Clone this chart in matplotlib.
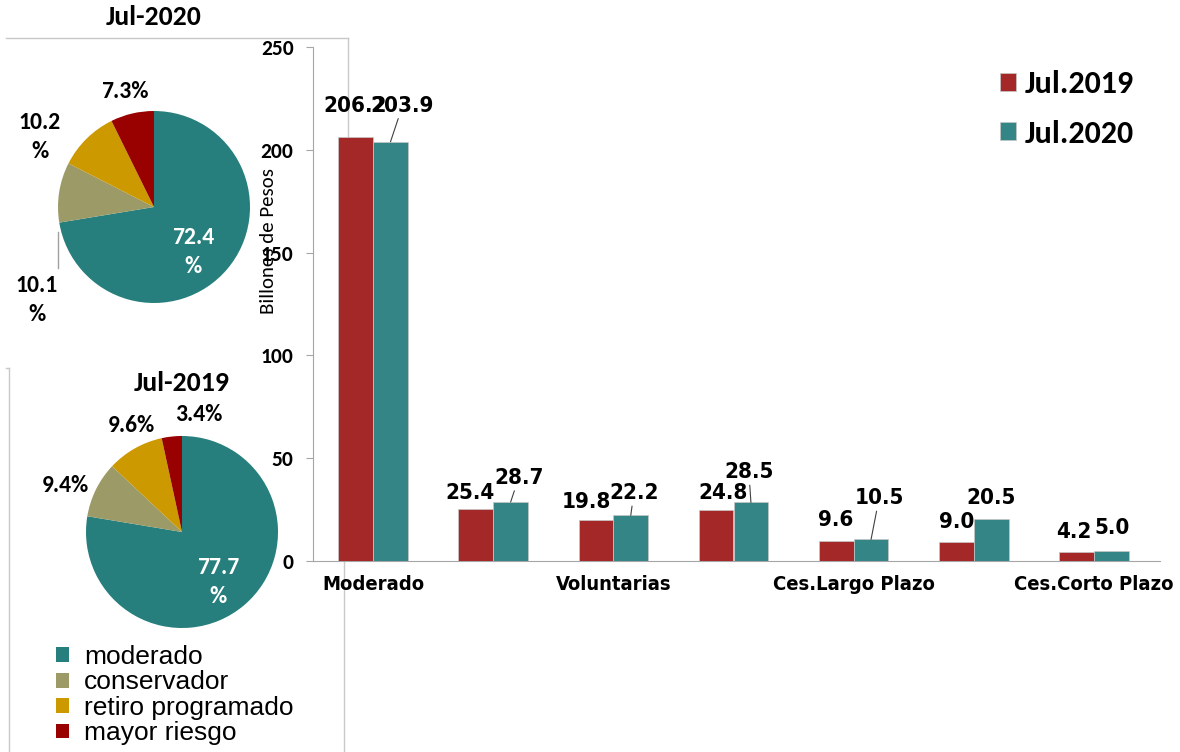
import numpy as np
import matplotlib
matplotlib.use("Agg")
import matplotlib.pyplot as plt
from matplotlib.lines import Line2D

# fondos por tipo, billones de pesos
categorias = ["Moderado", "Retiro Programado", "Voluntarias", "Conservador",
              "Ces.Largo Plazo", "Mayor Riesgo", "Ces.Corto Plazo"]
jul_2019 = [206.2, 25.4, 19.8, 24.8, 9.6, 9.0, 4.2]
jul_2020 = [203.9, 28.7, 22.2, 28.5, 10.5, 20.5, 5.0]

# composicion de los fondos obligatorios (%)
tipos = ["moderado", "conservador", "retiro programado", "mayor riesgo"]
pie_2020 = [72.4, 10.1, 10.2, 7.3]
pie_2019 = [77.7, 9.4, 9.6, 3.4]

pie_colors = ["#267F7C", "#9C9A66", "#CC9900", "#990000"]
c19, c20 = "#A52829", "#348585"

calib = ["Carlito", "Lato", "DejaVu Sans"]
narrow = dict(fontfamily="DejaVu Sans", fontstretch="condensed", fontweight="bold")

W, H = 1180, 752
fig = plt.figure(figsize=(W / 100, H / 100), dpi=100)


def rect(left, top, right, bottom):
    return [left / W, 1 - bottom / H, (right - left) / W, (bottom - top) / H]


def fline(x0, y0, x1, y1, **kw):
    fig.add_artist(Line2D([x0 / W, x1 / W], [1 - y0 / H, 1 - y1 / H],
                          transform=fig.transFigure, **kw))


# marcos grises de los graficos incrustados
frame = dict(color="#C8C8C8", lw=1.0, zorder=0)
fline(6, 38, 348, 38, **frame)
fline(348, 38, 348, 365, **frame)
fline(6, 368, 9, 368, **frame)
fline(9, 368, 9, 752, **frame)
fline(344, 368, 344, 752, **frame)

# ---- barras ----
ax = fig.add_axes(rect(313, 47, 1154, 561))
ax.patch.set_alpha(0)
x = np.arange(len(categorias))
bw = 0.29
b19 = ax.bar(x - bw / 2, jul_2019, bw, color=c19, edgecolor="#C8C8C8", lw=0.5,
             label="Jul.2019", zorder=3)
b20 = ax.bar(x + bw / 2, jul_2020, bw, color=c20, edgecolor="#C8C8C8", lw=0.5,
             label="Jul.2020", zorder=3)
ax.set_xlim(-0.5, 6.5)
ax.set_ylim(0, 250)
ax.set_yticks(range(0, 251, 50))
ax.set_xticks(x[::2])
ax.set_xticklabels(categorias[::2], fontsize=14.5, **narrow)
ax.tick_params(axis="x", length=0, pad=10)
ax.tick_params(axis="y", length=5, color="#A6A6A6", pad=9)
for t in ax.get_yticklabels():
    t.set_fontfamily(calib)
    t.set_fontweight("bold")
    t.set_fontsize(15.5)
for s in ["top", "right"]:
    ax.spines[s].set_visible(False)
for s in ["left", "bottom"]:
    ax.spines[s].set_color("#A6A6A6")
ax.spines["bottom"].set_bounds(-0.5, 6.55)
ax.set_ylabel("Billones de Pesos", fontfamily=calib, fontsize=15)
ax.yaxis.set_label_coords(-0.043, 0.623)

# desplazamientos de las etiquetas (px) y cuales llevan linea guia
off19 = [(-1, 31), (-6, 16), (-10, 18), (7, 17), (-1, 21), (0, 20), (-3, 20)]
off20 = [(12, 36), (8, 24), (3, 22), (-2, 30), (8, 41), (0, 21), (1, 23)]
guia20 = [True, True, True, True, True, False, False]

lab = dict(fontsize=16, ha="center", va="center", textcoords="offset points",
           zorder=5, **narrow)
for i in range(len(categorias)):
    dx, dy = off19[i]
    ax.annotate(f"{jul_2019[i]:.1f}", (x[i] - bw / 2, jul_2019[i]),
                xytext=(dx * 0.72, dy * 0.72), **lab)
    dx, dy = off20[i]
    ap = dict(arrowstyle="-", color="#404040", lw=0.8, shrinkA=0, shrinkB=0) if guia20[i] else None
    ax.annotate(f"{jul_2020[i]:.1f}", (x[i] + bw / 2, jul_2020[i]),
                xytext=(dx * 0.72, dy * 0.72), arrowprops=ap, **lab)

ax.legend(handles=[b19, b20], loc="upper left",
          bbox_to_anchor=(1000 / W, 1 - 70 / H), bbox_transform=fig.transFigure,
          frameon=False, prop=dict(family=calib, weight="bold", size=23),
          handlelength=0.5, handleheight=0.5, handletextpad=0.28,
          labelspacing=0.68, borderpad=0, borderaxespad=0)


# ---- tortas ----
def torta(cx, cy, vals, titulo, ty, etiquetas):
    r = 96
    a = fig.add_axes(rect(cx - r, cy - r, cx + r, cy + r))
    w, _ = a.pie(vals, colors=pie_colors, startangle=90, counterclock=False,
                 radius=1, wedgeprops=dict(linewidth=0))
    a.set_xlim(-1, 1)
    a.set_ylim(-1, 1)
    a.set_aspect("equal")
    fig.text(cx / W, 1 - ty / H, titulo, ha="center", va="center",
             fontfamily=calib, fontweight="bold", fontsize=20)
    for v, (px, py, partido, color) in zip(vals, etiquetas):
        txt = f"{v:.1f}\n%" if partido else f"{v:.1f}%"
        a.text(px, py, txt, ha="center", va="center", color=color,
               fontfamily=calib, fontweight="bold", fontsize=17,
               linespacing=1.45, clip_on=False)
    return w


torta(154, 207, pie_2020, "Jul-2020", 17,
      [(0.41, -0.47, True, "white"), (-1.22, -0.97, True, "black"),
       (-1.19, 0.73, True, "black"), (-0.30, 1.20, False, "black")])
fline(58, 232, 58, 268, color="#A0A0A0", lw=1.0)

wedges = torta(182, 532, pie_2019, "Jul-2019", 383,
               [(0.375, -0.52, True, "white"), (-1.21, 0.48, False, "black"),
                (-0.53, 1.11, False, "black"), (0.18, 1.22, False, "black")])

fig.legend(wedges, tipos, loc="upper left", bbox_to_anchor=(56 / W, 1 - 645 / H),
           frameon=False, prop=dict(family="Liberation Sans", size=19),
           handlelength=0.49, handleheight=0.49, handletextpad=0.57,
           labelspacing=0.055, borderpad=0, borderaxespad=0)

fig.savefig("out.png", dpi=100)
